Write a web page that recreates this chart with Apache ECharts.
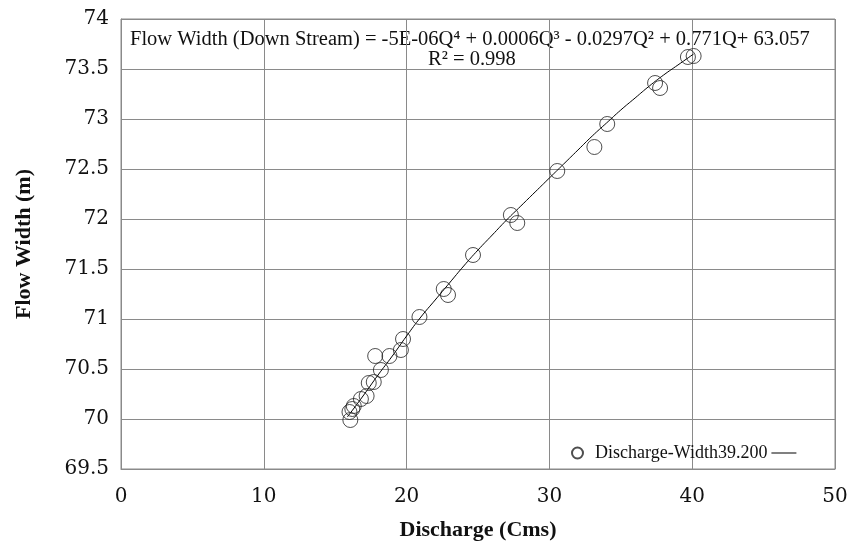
<!DOCTYPE html>
<html>
<head>
<meta charset="utf-8">
<script src="https://cdn.jsdelivr.net/npm/echarts@6/dist/echarts.min.js"></script>
<style>
  html, body { margin: 0; padding: 0; background: #fff; }
  #chart { width: 850px; height: 542px; }
</style>
</head>
<body>
<div id="chart"></div>
<script>
// observed points (discharge, flow width)
var discharge = [16.06, 16.0, 16.2, 16.3, 16.8, 17.2, 17.35, 17.7, 18.2, 17.8, 18.8, 19.6, 19.75,
  20.9, 22.6, 22.9, 24.65, 27.3, 27.75, 30.55, 33.15, 34.05, 37.4, 37.75, 39.7, 40.1];
var width = [69.99, 70.07, 70.1, 70.13, 70.2, 70.23, 70.36, 70.37, 70.49, 70.63, 70.63, 70.69, 70.8,
  71.02, 71.3, 71.24, 71.64, 72.04, 71.96, 72.48, 72.72, 72.95, 73.36, 73.31, 73.62, 73.63];

// trend line
var trendQ = [15.85, 17, 18, 19, 20, 21, 22, 23, 24, 25, 26, 27, 28, 29, 30, 31, 32, 33, 34, 35, 36, 37, 38, 39, 40.1];
var trendW = [70.02, 70.24, 70.44, 70.63, 70.83, 71.02, 71.19, 71.36, 71.53, 71.69, 71.84, 71.99, 72.13,
  72.27, 72.41, 72.55, 72.69, 72.83, 72.96, 73.09, 73.21, 73.33, 73.44, 73.54, 73.65];

var seriesName = 'Discharge-Width39.200';
var trendName = 'Poly.';
var equation = 'Flow Width (Down Stream) = -5E-06Q\u2074 + 0.0006Q\u00b3 - 0.0297Q\u00b2 + 0.771Q+ 63.057';
var rSquared = 'R\u00b2 = 0.998';

var points = [];
for (var i = 0; i < discharge.length; i++) {
  points.push([discharge[i], width[i]]);
}
var trend = [];
for (var j = 0; j < trendQ.length; j++) {
  trend.push([trendQ[j], trendW[j]]);
}

var myChart = echarts.init(document.getElementById('chart'));
var gridColor = '#8a8a8a';
var option = {
  backgroundColor: '#fff',
  animation: false,
  grid: {
    left: 121,
    right: 15,
    top: 19,
    bottom: 73,
    outerBoundsMode: 'none',
    containLabel: false,
    show: true,
    borderColor: gridColor,
    borderWidth: 1
  },
  xAxis: {
    type: 'value',
    min: 0,
    max: 50,
    interval: 10,
    name: 'Discharge (Cms)',
    nameLocation: 'middle',
    nameGap: 50,
    nameTextStyle: { fontFamily: 'Liberation Serif', fontWeight: 'bold', fontSize: 22, color: '#111' },
    axisLine: { lineStyle: { color: gridColor } },
    axisTick: { show: false },
    axisLabel: { fontFamily: 'DejaVu Serif', fontSize: 20, color: '#111', margin: 18 },
    splitLine: { lineStyle: { color: gridColor, width: 1 } }
  },
  yAxis: {
    type: 'value',
    min: 69.5,
    max: 74,
    interval: 0.5,
    name: 'Flow Width (m)',
    nameLocation: 'middle',
    nameGap: 86,
    nameTextStyle: { fontFamily: 'Liberation Serif', fontWeight: 'bold', fontSize: 22, color: '#111' },
    axisLine: { show: true, lineStyle: { color: gridColor } },
    axisTick: { show: false },
    axisLabel: { fontFamily: 'DejaVu Serif', fontSize: 20, color: '#111', margin: 12 },
    splitLine: { lineStyle: { color: gridColor, width: 1 } }
  },
  legend: {
    left: 566,
    top: 439,
    itemGap: 4,
    itemWidth: 25,
    itemHeight: 11,
    textStyle: { fontFamily: 'Liberation Serif', fontSize: 18, color: '#111' },
    formatter: function (name) { return name === trendName ? '' : name; },
    data: [
      { name: seriesName, icon: 'circle' },
      { name: trendName, icon: 'path://M0,0 L100,0 L100,4 L0,4 Z', itemStyle: { color: '#000' } }
    ]
  },
  graphic: [
    {
      type: 'text',
      left: 130,
      top: 29,
      style: { text: equation, font: '20.5px "Liberation Serif"', fill: '#111' }
    },
    {
      type: 'text',
      left: 428,
      top: 49,
      style: { text: rSquared, font: '20.5px "Liberation Serif"', fill: '#111' }
    }
  ],
  series: [
    {
      name: trendName,
      type: 'line',
      data: trend,
      symbol: 'none',
      smooth: true,
      color: '#000',
      lineStyle: { color: '#000', width: 1 },
      z: 3
    },
    {
      name: seriesName,
      type: 'scatter',
      data: points,
      symbol: 'circle',
      symbolSize: 15,
      itemStyle: { color: 'rgba(0,0,0,0)', borderColor: '#222', borderWidth: 1 },
      z: 4
    }
  ]
};
myChart.setOption(option);
</script>
</body>
</html>
